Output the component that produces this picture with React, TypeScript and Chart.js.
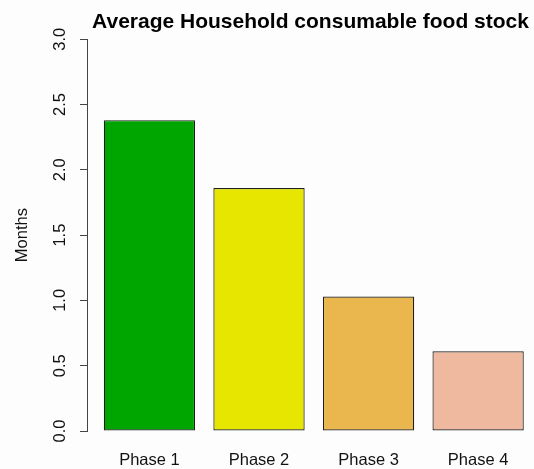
import React, { useEffect, useRef } from "react";
import { Chart, registerables } from "chart.js";

Chart.register(...registerables);

const phases = ["Phase 1", "Phase 2", "Phase 3", "Phase 4"];
const months = [2.38, 1.86, 1.03, 0.61];
const barColors = ["#00A600", "#E6E600", "#EAB64E", "#EEB99F"];
const yTicks = [0, 0.5, 1, 1.5, 2, 2.5, 3];
const titleText = "Average Household consumable food stock";
const yTitle = "Months";
const X_MIN = -0.57;
const X_MAX = 3.51;

const FONT = "'Liberation Sans', Arial, Helvetica, sans-serif";

export default function App() {
  const ref = useRef<HTMLCanvasElement | null>(null);

  useEffect(() => {
    if (!ref.current) return;
    const chart = new Chart(ref.current, {
      type: "bar",
      data: {
        datasets: [
          {
            data: months.map((v, i) => ({ x: i, y: v })),
            backgroundColor: barColors,
            borderColor: "#1e1e1e",
            borderWidth: 1.2,
            borderSkipped: false,
            categoryPercentage: 1,
            barPercentage: 1 / 1.2,
          },
        ],
      },
      options: {
        animation: false,
        responsive: true,
        maintainAspectRatio: false,
        layout: { padding: 0 },
        plugins: {
          legend: { display: false },
          tooltip: { enabled: false },
          title: {
            display: true,
            text: titleText,
            fullSize: false,
            color: "#000",
            font: { family: FONT, size: 21, weight: "bold" },
            padding: { top: 10, bottom: 4 },
          },
        },
        scales: {
          x: {
            type: "linear",
            offset: false,
            min: X_MIN,
            max: X_MAX,
            grid: { display: false, drawTicks: false, offset: false },
            border: { display: false },
            afterBuildTicks: (scale: any) => {
              scale.ticks = phases.map((_, i) => ({ value: i }));
            },
            afterFit: (scale: any) => {
              scale.height = 38;
            },
            ticks: {
              autoSkip: false,
              maxRotation: 0,
              minRotation: 0,
              padding: 20,
              color: "#111",
              font: { family: FONT, size: 16.5 },
              callback: (v: any) => phases[Math.round(Number(v))] ?? "",
            },
          },
          y: {
            type: "linear",
            min: yTicks[0],
            max: yTicks[yTicks.length - 1],
            afterBuildTicks: (scale: any) => {
              scale.ticks = yTicks.map((v) => ({ value: v }));
            },
            afterFit: (scale: any) => {
              scale.width = 87;
            },
            grid: {
              drawOnChartArea: false,
              drawTicks: true,
              tickLength: 7,
              color: "#444",
              lineWidth: 1,
            },
            border: { display: true, color: "#444", width: 1 },
            ticks: {
              minRotation: 90,
              maxRotation: 90,
              crossAlign: "center",
              padding: 8,
              color: "#111",
              font: { family: FONT, size: 16.5 },
              callback: (v: any) => Number(v).toFixed(1),
            },
            title: {
              display: true,
              text: yTitle,
              color: "#111",
              font: { family: FONT, size: 16.5 },
              padding: { top: 13, bottom: 0 },
            },
          },
        },
      },
    });
    return () => chart.destroy();
  }, []);

  return (
    <div
      style={{
        position: "fixed",
        left: 0,
        top: 0,
        width: 534,
        height: 469,
        background: "#fdfdfd",
      }}
    >
      <canvas ref={ref} />
    </div>
  );
}
